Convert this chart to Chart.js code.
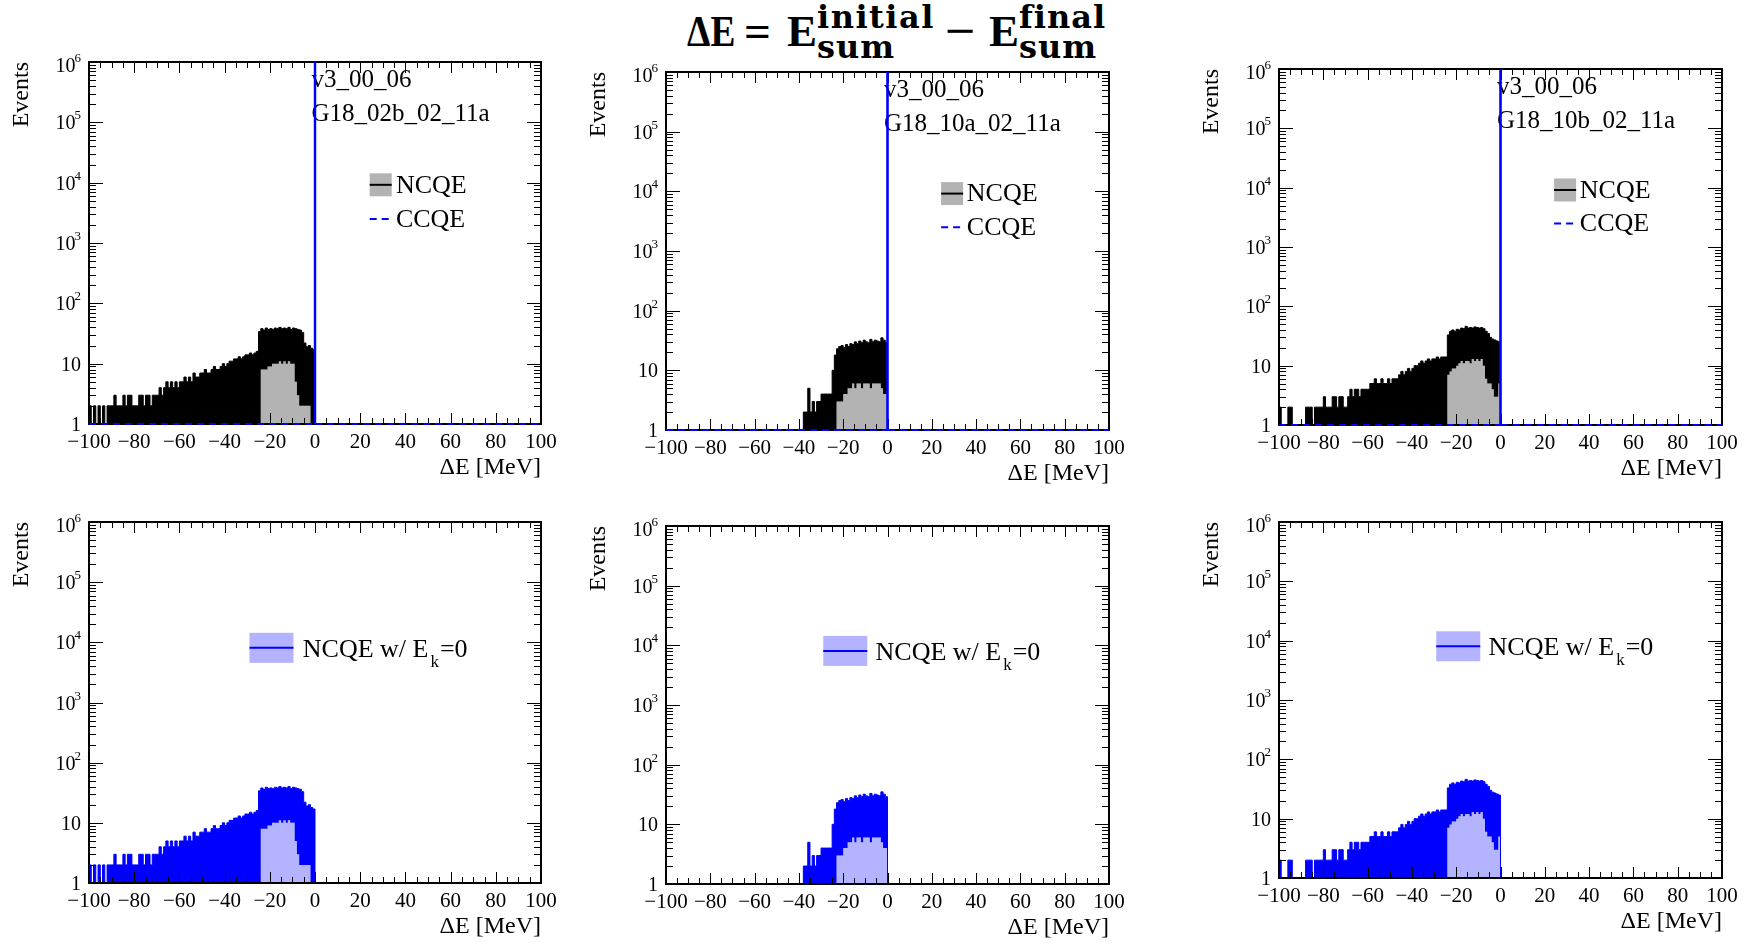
<!DOCTYPE html>
<html>
<head>
<meta charset="utf-8">
<script src="https://cdn.jsdelivr.net/npm/chart.js@4.4.0/dist/chart.umd.min.js"></script>
<style>
  html, body { margin: 0; padding: 0; background: #fff; width: 1748px; height: 943px; overflow: hidden; }
  canvas { position: absolute; }
  #title { position: absolute; left: 0; top: 0; width: 1748px; height: 70px; color: #000; }
  #title span { position: absolute; white-space: nowrap; font-weight: bold; line-height: 1; transform-origin: left top; }
  #title .m { font-family: "Liberation Serif", serif; font-size: 45px; top: 9px; }
  #title .s { font-family: "DejaVu Serif", serif; font-size: 32px; letter-spacing: 1px; }
  #title .up { top: 1px; }
  #title .dn { top: 31px; }
</style>
</head>
<body>
<div id="title"><span class="m" style="left:687px; transform: scaleX(0.83);">ΔE</span><span class="m" style="left:744px; transform: scaleX(1.05);">=</span><span class="m" style="left:787px;">E</span><span class="s up" style="left:817px; letter-spacing: 1.5px;">initial</span><span class="s dn" style="left:817px;">sum</span><span class="m" style="left:945px; transform: scaleX(1.2);">−</span><span class="m" style="left:989px;">E</span><span class="s up" style="left:1019px;">final</span><span class="s dn" style="left:1019px;">sum</span></div>
<script>
// ---------------- data ----------------
const binStart = -100;      // MeV, low edge of first bin
const binWidth = 1;         // MeV
const yMin = 1, yMax = 1e6;
const xMin = -100, xMax = 100;

const xTickValues = [-100, -80, -60, -40, -20, 0, 20, 40, 60, 80, 100];
const xTickLabels = ['\u2212100', '\u221280', '\u221260', '\u221240', '\u221220', '0', '20', '40', '60', '80', '100'];
const yTickValues = [1, 10, 1e2, 1e3, 1e4, 1e5, 1e6];
const yTickBases  = ['1', '10', '10', '10', '10', '10', '10'];
const yTickExps   = ['', '', '2', '3', '4', '5', '6'];

const genieVersion = 'v3_00_06';
const tunes = ['G18_02b_02_11a', 'G18_10a_02_11a', 'G18_10b_02_11a'];

// NCQE, bins -100..-1 MeV: upper envelope (max) and lower envelope (min) of the fine-binned histogram
const ncqeMax_02b = [
  2,1,2,1,2,1,2,1,2,2,
  2,3,2,2,2,3,2,3,3,2,
  2,2,3,3,2,3,3,2,3,3,
  3,4,3,4,5,4,5,4,5,4,
  5,5,6,5,6,5,7,6,6,7,
  7,8,7,7,8,9,8,8,9,10,
  9,10,11,11,12,12,13,12,13,14,
  14,15,14,15,16,34,38,36,39,37,
  38,37,39,38,40,38,39,38,40,37,
  39,38,37,36,33,22,19,20,18,17];
const ncqeMin_02b = [
  1,1,1,1,1,1,1,1,1,1,
  1,1,1,1,1,1,1,1,1,1,
  1,1,1,1,1,1,1,1,1,1,
  1,1,1,1,1,1,1,1,1,1,
  1,1,1,1,1,1,1,1,1,1,
  1,1,1,1,1,1,1,1,1,1,
  1,1,1,1,1,1,1,1,1,1,
  1,1,1,1,1,1,8,8,8,9,
  9,10,10,10,11,10,11,10,11,10,
  10,5,3,2,2,2,2,2,1,1];

const ncqeMax_10a = [
  1,1,1,1,1,1,1,1,1,1,
  1,1,1,1,1,1,1,1,1,1,
  1,1,1,1,1,1,1,1,1,1,
  1,1,1,1,1,1,1,1,1,1,
  1,1,1,1,1,1,1,1,1,1,
  1,1,1,1,1,1,1,1,1,1,
  1,1,2,2,5,2,3,2,3,3,
  4,4,4,4,4,10,18,23,25,26,
  24,27,25,28,27,30,28,31,29,32,
  30,29,33,30,32,31,30,35,32,29];
const ncqeMin_10a = [
  1,1,1,1,1,1,1,1,1,1,
  1,1,1,1,1,1,1,1,1,1,
  1,1,1,1,1,1,1,1,1,1,
  1,1,1,1,1,1,1,1,1,1,
  1,1,1,1,1,1,1,1,1,1,
  1,1,1,1,1,1,1,1,1,1,
  1,1,1,1,1,1,1,1,1,1,
  1,1,1,1,1,1,1,3,3,3,
  4,4,5,5,6,5,6,6,5,6,
  6,6,5,6,6,6,6,5,4,4];

const ncqeMax_10b = [
  2,1,1,1,2,2,1,1,1,1,
  1,1,2,2,2,1,2,2,2,2,
  3,2,2,2,3,3,2,3,3,2,
  2,3,4,3,4,4,3,4,4,4,
  4,5,5,6,5,5,6,5,5,6,
  5,6,6,6,7,8,7,8,9,8,
  9,10,10,11,12,11,12,13,12,13,
  13,14,13,14,14,14,33,38,40,38,
  41,40,43,42,46,43,44,43,45,44,
  43,44,42,38,35,30,28,27,26,25];
const ncqeMin_10b = [
  1,1,1,1,1,1,1,1,1,1,
  1,1,1,1,1,1,1,1,1,1,
  1,1,1,1,1,1,1,1,1,1,
  1,1,1,1,1,1,1,1,1,1,
  1,1,1,1,1,1,1,1,1,1,
  1,1,1,1,1,1,1,1,1,1,
  1,1,1,1,1,1,1,1,1,1,
  1,1,1,1,1,1,7,8,9,9,
  10,11,12,11,12,12,11,13,12,13,
  12,13,10,6,5,5,4,3,3,5];

// NCQE with E_k = 0 (bottom row), bins -100..-1 MeV
const ek0Max_02b = [
  2,1,2,1,2,1,2,1,2,2,
  2,3,2,2,2,3,2,3,3,2,
  2,2,3,3,2,3,3,2,3,3,
  3,4,3,4,5,4,5,4,5,4,
  5,5,6,5,6,5,7,6,6,7,
  7,8,7,7,8,9,8,8,9,10,
  9,10,11,11,12,12,13,12,13,14,
  14,15,14,15,16,34,38,36,39,37,
  38,37,39,38,40,38,39,38,40,37,
  39,38,37,36,33,22,19,20,18,17];
const ek0Min_02b = [
  1,1,1,1,1,1,1,1,1,1,
  1,1,1,1,1,1,1,1,1,1,
  1,1,1,1,1,1,1,1,1,1,
  1,1,1,1,1,1,1,1,1,1,
  1,1,1,1,1,1,1,1,1,1,
  1,1,1,1,1,1,1,1,1,1,
  1,1,1,1,1,1,1,1,1,1,
  1,1,1,1,1,1,8,8,8,9,
  9,10,10,10,11,10,11,10,11,10,
  10,5,3,2,2,2,2,2,1,1];
const ek0Max_10a = [
  1,1,1,1,1,1,1,1,1,1,
  1,1,1,1,1,1,1,1,1,1,
  1,1,1,1,1,1,1,1,1,1,
  1,1,1,1,1,1,1,1,1,1,
  1,1,1,1,1,1,1,1,1,1,
  1,1,1,1,1,1,1,1,1,1,
  1,1,2,2,5,2,3,2,3,3,
  4,4,4,4,4,10,18,23,25,26,
  24,27,25,28,27,30,28,31,29,32,
  30,29,33,30,32,31,30,35,32,29];
const ek0Min_10a = [
  1,1,1,1,1,1,1,1,1,1,
  1,1,1,1,1,1,1,1,1,1,
  1,1,1,1,1,1,1,1,1,1,
  1,1,1,1,1,1,1,1,1,1,
  1,1,1,1,1,1,1,1,1,1,
  1,1,1,1,1,1,1,1,1,1,
  1,1,1,1,1,1,1,1,1,1,
  1,1,1,1,1,1,1,3,3,3,
  4,4,5,5,6,5,6,6,5,6,
  6,6,5,6,6,6,6,5,4,4];
const ek0Max_10b = [
  2,1,1,1,2,2,1,1,1,1,
  1,1,2,2,2,1,2,2,2,2,
  3,2,2,2,3,3,2,3,3,2,
  2,3,4,3,4,4,3,4,4,4,
  4,5,5,6,5,5,6,5,5,6,
  5,6,6,6,7,8,7,8,9,8,
  9,10,10,11,12,11,12,13,12,13,
  13,14,13,14,14,14,33,38,40,38,
  41,40,43,42,46,43,44,43,45,44,
  43,44,42,38,35,30,28,27,26,25];
const ek0Min_10b = [
  1,1,1,1,1,1,1,1,1,1,
  1,1,1,1,1,1,1,1,1,1,
  1,1,1,1,1,1,1,1,1,1,
  1,1,1,1,1,1,1,1,1,1,
  1,1,1,1,1,1,1,1,1,1,
  1,1,1,1,1,1,1,1,1,1,
  1,1,1,1,1,1,1,1,1,1,
  1,1,1,1,1,1,7,8,9,9,
  10,11,12,11,12,12,11,13,12,13,
  12,13,10,6,5,5,4,3,3,5];

// CCQE: everything sits in one narrow bin at Delta E = 0 (off scale)
const ccqeEdges  = [-100, -0.1, 0.1, 100];
const ccqeCounts = [0, 3e6, 0];

const legendNCQE = 'NCQE';
const legendCCQE = 'CCQE';
const legendEk0Parts = ['NCQE w/ E', 'k', '=0'];

// ---------------- style / layout ----------------
const SERIF = '"Liberation Serif", "Times New Roman", serif';
const greyFill = '#b3b3b3';
const lightBlue = '#b3b3ff';
const blue = '#0000ff';
const xMinorStep = 5, xMajorStep = 20;
const padL = 82, padT = 20, padR = 24, padB = 66;

const frames = [
  {l: 89,   t: 62,  w: 452, h: 362},
  {l: 666,  t: 72,  w: 443, h: 358},
  {l: 1279, t: 69,  w: 443, h: 356},
  {l: 89,   t: 522, w: 452, h: 361},
  {l: 666,  t: 526, w: 443, h: 358},
  {l: 1279, t: 522, w: 443, h: 356}
];

const panels = [
  {frame: frames[0], kind: 'top', max: ncqeMax_02b, min: ncqeMin_02b, tune: tunes[0]},
  {frame: frames[1], kind: 'top', max: ncqeMax_10a, min: ncqeMin_10a, tune: tunes[1]},
  {frame: frames[2], kind: 'top', max: ncqeMax_10b, min: ncqeMin_10b, tune: tunes[2]},
  {frame: frames[3], kind: 'bottom', max: ek0Max_02b, min: ek0Min_02b},
  {frame: frames[4], kind: 'bottom', max: ek0Max_10a, min: ek0Min_10a},
  {frame: frames[5], kind: 'bottom', max: ek0Max_10b, min: ek0Min_10b}
];

// histogram (bin contents) -> step points
function histPoints(values) {
  const pts = values.map((v, i) => ({x: binStart + i * binWidth, y: Math.max(v, yMin)}));
  pts.push({x: binStart + values.length * binWidth, y: yMin});
  pts.push({x: xMax, y: yMin});
  return pts;
}
function edgePoints(edges, counts) {
  const pts = [];
  counts.forEach((c, i) => {
    const y = Math.max(c, yMin);
    pts.push({x: edges[i], y});
    pts.push({x: edges[i + 1], y});
  });
  return pts;
}

function drawFrameAndTicks(chart) {
  const {ctx, chartArea: a, scales: {x, y}} = chart;
  ctx.save();
  ctx.strokeStyle = '#000';
  ctx.lineWidth = 1;
  ctx.beginPath();
  for (let v = xMin; v <= xMax + 1e-9; v += xMinorStep) {
    const px = Math.round(x.getPixelForValue(v)) + 0.5;
    const len = Math.abs(v % xMajorStep) < 1e-9 ? 11 : 6;
    ctx.moveTo(px, a.bottom); ctx.lineTo(px, a.bottom - len);
    ctx.moveTo(px, a.top); ctx.lineTo(px, a.top + len);
  }
  for (let d = 0; d <= 6; d++) {
    for (let m = 1; m <= 9; m++) {
      const v = m * Math.pow(10, d);
      if (v > yMax * 1.0001) break;
      const py = Math.round(y.getPixelForValue(v)) + 0.5;
      const len = m === 1 ? 14 : 7;
      ctx.moveTo(a.left, py); ctx.lineTo(a.left + len, py);
      ctx.moveTo(a.right, py); ctx.lineTo(a.right - len, py);
    }
  }
  ctx.stroke();
  ctx.lineWidth = 2;
  ctx.strokeRect(a.left, a.top, a.right - a.left, a.bottom - a.top);
  ctx.restore();
}

function drawTopLegend(chart, opts) {
  const {ctx, chartArea: a} = chart;
  const W = a.right - a.left, H = a.bottom - a.top;
  ctx.save();
  ctx.fillStyle = '#000';
  ctx.textAlign = 'left';
  ctx.textBaseline = 'alphabetic';
  ctx.font = '25px ' + SERIF;
  ctx.fillText(genieVersion, a.left + 0.492 * W, a.top + 24.5);
  ctx.fillText(opts.tune, a.left + 0.492 * W, a.top + 58.5);

  const bx = a.left + 0.621 * W, by = a.top + 0.3075 * H;
  ctx.fillStyle = greyFill;
  ctx.fillRect(bx, by, 22, 23);
  ctx.strokeStyle = '#000';
  ctx.lineWidth = 2;
  ctx.beginPath(); ctx.moveTo(bx, by + 11.5); ctx.lineTo(bx + 22, by + 11.5); ctx.stroke();
  ctx.fillStyle = '#000';
  ctx.font = '26px ' + SERIF;
  const tx = a.left + 0.679 * W;
  ctx.fillText(legendNCQE, tx, a.top + 0.361 * H);
  const dy = a.top + 0.434 * H;
  ctx.strokeStyle = blue;
  ctx.setLineDash([7, 5]);
  ctx.beginPath(); ctx.moveTo(bx, dy); ctx.lineTo(bx + 22, dy); ctx.stroke();
  ctx.setLineDash([]);
  ctx.fillText(legendCCQE, tx, a.top + 0.455 * H);
  ctx.restore();
}

function drawBottomLegend(chart) {
  const {ctx, chartArea: a} = chart;
  const W = a.right - a.left, H = a.bottom - a.top;
  ctx.save();
  const bx = a.left + 0.355 * W, by = a.top + 0.307 * H;
  ctx.fillStyle = lightBlue;
  ctx.fillRect(bx, by, 44, 30);
  ctx.strokeStyle = blue;
  ctx.lineWidth = 2;
  ctx.beginPath(); ctx.moveTo(bx, by + 15); ctx.lineTo(bx + 44, by + 15); ctx.stroke();
  ctx.fillStyle = '#000';
  ctx.textAlign = 'left';
  ctx.textBaseline = 'alphabetic';
  let tx = a.left + 0.473 * W;
  const base = a.top + 0.373 * H;
  ctx.font = '26px ' + SERIF;
  ctx.fillText(legendEk0Parts[0], tx, base);
  tx += ctx.measureText(legendEk0Parts[0]).width + 2;
  ctx.font = '17px ' + SERIF;
  ctx.fillText(legendEk0Parts[1], tx, base + 10);
  tx += ctx.measureText(legendEk0Parts[1]).width + 1;
  ctx.font = '26px ' + SERIF;
  ctx.fillText(legendEk0Parts[2], tx, base);
  ctx.restore();
}

function drawYLabels(chart) {
  const {ctx, chartArea: a, scales: {y}} = chart;
  ctx.save();
  ctx.fillStyle = '#000';
  ctx.textAlign = 'right';
  ctx.textBaseline = 'alphabetic';
  const xr = a.left - 8;
  yTickValues.forEach((v, i) => {
    const py = y.getPixelForValue(v);
    const base = py + (i === yTickValues.length - 1 ? 10 : 7);
    const e = yTickExps[i];
    if (e) {
      ctx.font = '13px ' + SERIF;
      ctx.fillText(e, xr, base - 10);
      const w = ctx.measureText(e).width;
      ctx.font = '20px ' + SERIF;
      ctx.fillText(yTickBases[i], xr - w + 1, base);
    } else {
      ctx.font = '20px ' + SERIF;
      ctx.fillText(yTickBases[i], xr, base);
    }
  });
  ctx.restore();
}

const rootStyle = {
  id: 'rootStyle',
  afterDatasetDraw(chart, args, opts) {
    if (args.index !== 1) return;
    drawFrameAndTicks(chart);
    if (opts.kind === 'top') drawTopLegend(chart, opts);
    else drawBottomLegend(chart);
  },
  afterDraw(chart) {
    drawYLabels(chart);
  }
};

panels.forEach((p) => {
  const f = p.frame;
  const cv = document.createElement('canvas');
  const cw = f.w + padL + padR, ch = f.h + padT + padB;
  cv.width = cw; cv.height = ch;
  cv.style.left = (f.l - padL) + 'px';
  cv.style.top = (f.t - padT) + 'px';
  cv.style.width = cw + 'px';
  cv.style.height = ch + 'px';
  document.body.appendChild(cv);

  const isTop = p.kind === 'top';
  const datasets = [
    {
      label: isTop ? 'NCQE (min)' : 'NCQE w/ E_k=0 (min)',
      data: histPoints(p.min),
      stepped: true,
      borderColor: 'rgba(0,0,0,0)',
      borderWidth: 0,
      backgroundColor: isTop ? greyFill : lightBlue,
      fill: 'start',
      pointRadius: 0,
      order: 3
    },
    {
      label: isTop ? legendNCQE : 'NCQE w/ E_k=0',
      data: histPoints(p.max),
      stepped: true,
      borderColor: isTop ? '#000' : blue,
      borderWidth: 1,
      backgroundColor: isTop ? '#000' : blue,
      fill: '-1',
      pointRadius: 0,
      order: 2
    }
  ];
  if (isTop) {
    datasets.push({
      label: legendCCQE,
      data: edgePoints(ccqeEdges, ccqeCounts),
      borderColor: blue,
      borderWidth: 2,
      fill: false,
      pointRadius: 0,
      order: 1,
      clip: {left: 2, right: 2, top: 0, bottom: 3},
      segment: {
        borderDash: (c) => (c.p0.parsed.x === c.p1.parsed.x ? [] : [7, 5])
      }
    });
  }

  new Chart(cv, {
    type: 'line',
    data: {datasets},
    options: {
      responsive: false,
      animation: false,
      devicePixelRatio: 1,
      layout: {padding: {top: padT, right: padR, left: 0, bottom: 0}},
      plugins: {
        legend: {display: false},
        tooltip: {enabled: false},
        title: {display: false},
        rootStyle: {kind: p.kind, tune: p.tune}
      },
      scales: {
        x: {
          type: 'linear', min: xMin, max: xMax, position: 'bottom',
          grid: {display: false, drawTicks: false},
          border: {display: false},
          afterBuildTicks: (s) => { s.ticks = xTickValues.map(v => ({value: v})); },
          ticks: {
            autoSkip: false, maxRotation: 0, minRotation: 0, padding: 6, color: '#000',
            font: {family: SERIF, size: 21},
            callback: (v) => { const i = xTickValues.indexOf(v); return i >= 0 ? xTickLabels[i] : ''; }
          },
          title: {display: true, text: 'ΔE [MeV]', align: 'end', color: '#000',
                  font: {family: SERIF, size: 24}, padding: {top: 0, bottom: 8}},
          afterFit: (s) => { s.height = padB; s.paddingLeft = 0; s.paddingRight = 0; }
        },
        y: {
          type: 'logarithmic', min: yMin, max: yMax, position: 'left',
          grid: {display: false, drawTicks: false},
          border: {display: false},
          ticks: {display: false},
          title: {display: true, text: 'Events', align: 'end', color: '#000',
                  font: {family: SERIF, size: 24}, padding: {top: 0, bottom: 0}},
          afterFit: (s) => { s.width = padL; s.paddingTop = 0; s.paddingBottom = 0; }
        }
      }
    },
    plugins: [rootStyle]
  });
});
</script>
</body>
</html>
